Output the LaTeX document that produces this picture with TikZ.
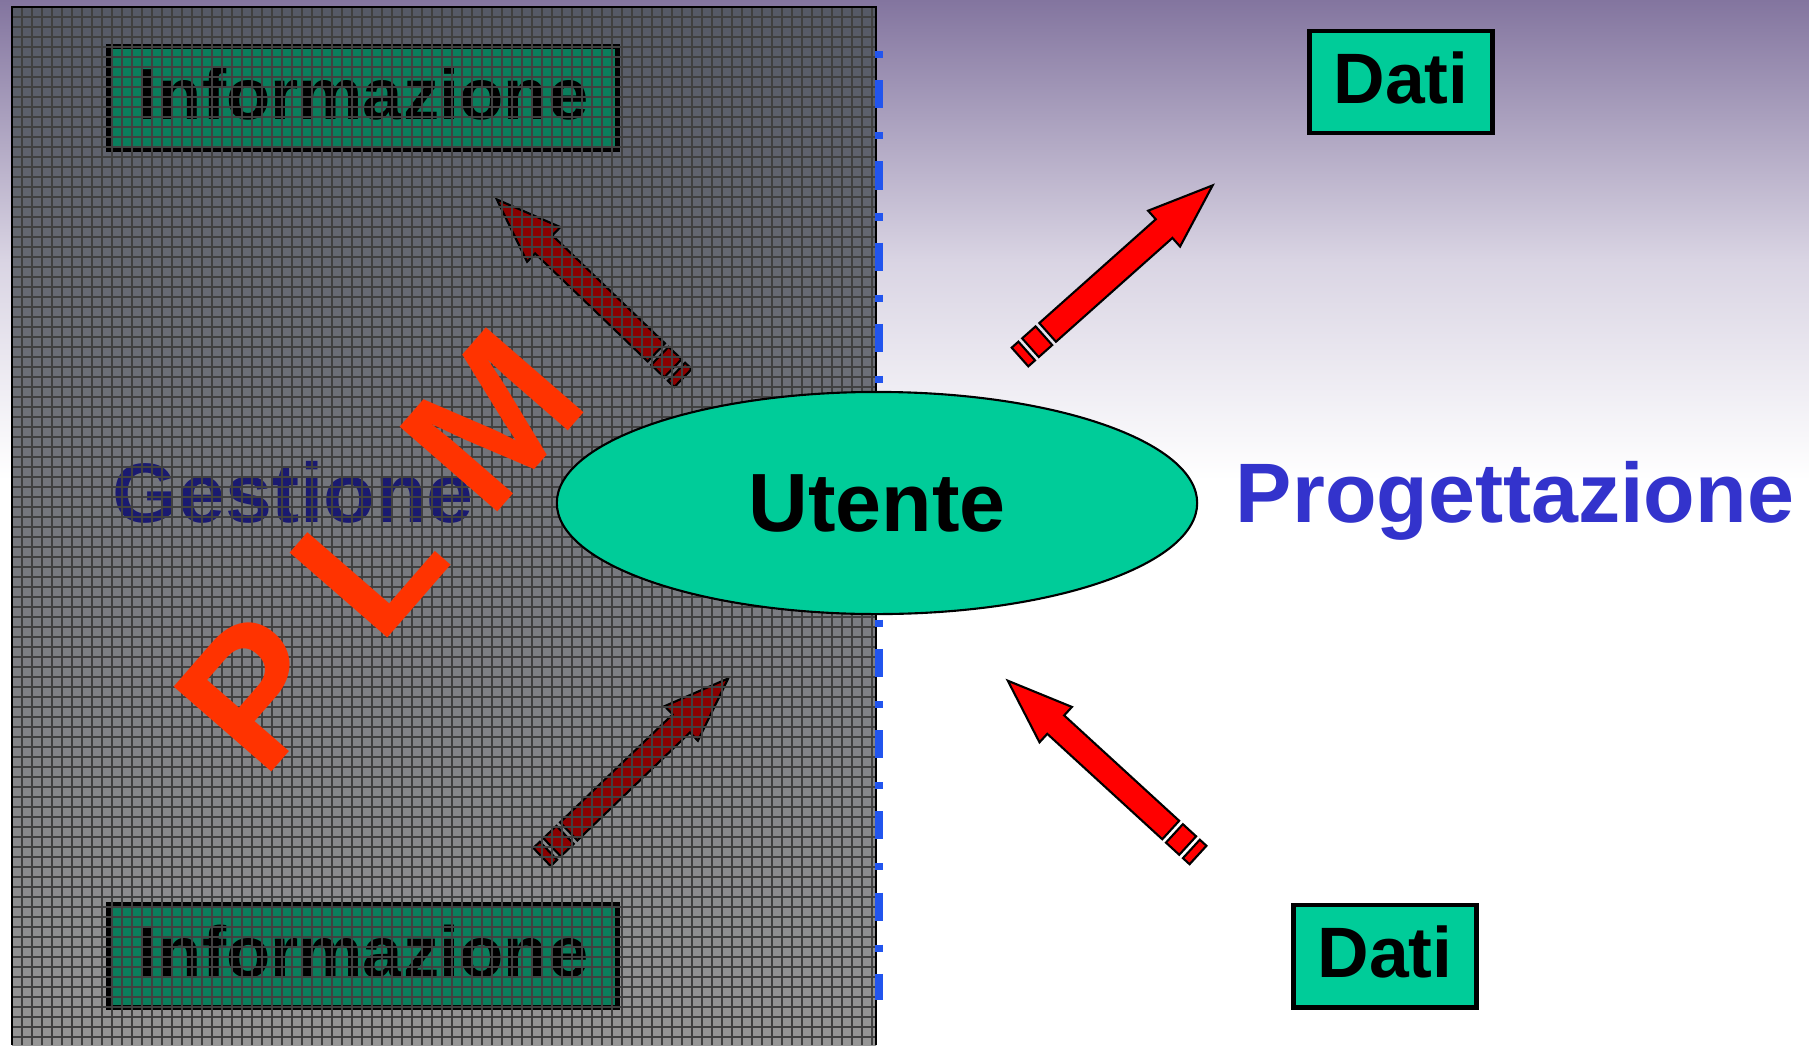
\documentclass[tikz,border=0pt]{standalone}
\usepackage{fontspec}
\setmainfont{Liberation Sans}
\usetikzlibrary{shapes.geometric}

\definecolor{plmteal}{HTML}{00CC99}
\definecolor{plmgreen}{HTML}{0A7E5C}
\definecolor{plmnavy}{HTML}{1A1A70}
\definecolor{plmblue}{HTML}{3333CC}
\definecolor{plmorange}{HTML}{FF3300}
\definecolor{plmdark}{HTML}{8B0000}
\definecolor{plmred}{HTML}{FF0000}
\definecolor{skytop}{HTML}{83759F}
\definecolor{skymid}{HTML}{D9D4E3}
\definecolor{paneltop}{HTML}{565A66}
\definecolor{panelmid}{HTML}{909296}
\definecolor{panelbot}{HTML}{959595}
\definecolor{dashblue}{HTML}{2255EE}

% striped block arrow: tail, angle, colour
\newcommand{\stripearrow}[3]{%
  \begin{scope}[shift={#1}, rotate=#2]
    \filldraw [arrowline, fill=#3] (0,-12.5) -- (9,-12.5) -- (9,12.5) -- (0,12.5) -- cycle;
    \filldraw [arrowline, fill=#3] (14,-12.5) -- (32,-12.5) -- (32,12.5) -- (14,12.5) -- cycle;
    \filldraw [arrowline, fill=#3] (37,-12.5) -- (193,-12.5) -- (193,-24) -- (258,0)
      -- (193,24) -- (193,12.5) -- (37,12.5) -- cycle;
  \end{scope}}

\begin{document}
\begin{tikzpicture}[x=0.01cm, y=-0.01cm,
  arrowline/.style={draw=black, line width=0.6pt, line join=miter},
  gridline/.style={black!75, line width=0.3pt},
  infobox/.style={draw=black, line width=1.4pt, fill=plmgreen, inner sep=0pt,
    minimum width=5.08cm, minimum height=1.03cm, text height=0.545cm, text depth=0.124cm,
    font={\fontsize{20.6}{24}\selectfont\bfseries}},
  datibox/.style={draw=black, line width=1.4pt, fill=plmteal, inner sep=0pt,
    minimum width=1.83cm, minimum height=1.02cm, text height=0.537cm, text depth=0.107cm,
    font={\fontsize{20.3}{24}\selectfont\bfseries}},
  bigword/.style={inner sep=0pt, anchor=base, font={\fontsize{24}{28}\selectfont\bfseries}},
  utentebox/.style={ellipse, draw=black, line width=0.6pt, fill=plmteal, inner sep=0pt,
    minimum width=6.4cm, minimum height=2.22cm, font={\fontsize{23.5}{28}\selectfont\bfseries}}]

\useasboundingbox (0,0) rectangle (1809,1045);

% sfondo
\fill [white] (0,0) rectangle (1809,1045);
\shade [top color=skytop, bottom color=skymid] (0,0) rectangle (1809,260);
\shade [top color=skymid, bottom color=white] (0,259) rectangle (1809,480);

% pannello a griglia
\shade [top color=paneltop, middle color=panelmid, bottom color=panelbot] (12,7) rectangle (876,1045);

\node [infobox] (infotop) at (363,98)  {Informazione};
\node [infobox] (infobot) at (363,956) {Informazione};
\node [bigword, text=plmnavy] (gestione) at (293,522) {Gestione};

\coordinate (tailNW) at (683,378);
\coordinate (tailSW) at (542,857);
\stripearrow{(tailNW)}{136.2}{plmdark}
\stripearrow{(tailSW)}{43.8}{plmdark}

\foreach \x in {22,32,...,872}
  \draw [gridline] (\x,7) -- (\x,1045);
\foreach \y in {17,27,...,1043}
  \draw [gridline] (12,\y) -- (876,\y);
\draw [black, line width=0.8pt] (12,1045) -- (12,7) -- (876,7) -- (876,1045);

\draw [dashblue, line width=2pt, dash pattern=on 2pt off 6.3pt on 8pt off 6.8pt] (879,51) -- (879,1000);

% PLM
\node [inner sep=0pt, anchor=base, rotate=49, text=plmorange,
  font={\fontsize{53.5}{60}\selectfont\bfseries}] (plm) at (428,592) {P L M};

% utente
\node [utentebox] (utente) at (877,503) {Utente};

\coordinate (tailNE) at (1020,357);
\coordinate (tailSE) at (1198,855);
\stripearrow{(tailNE)}{41.7}{plmred}
\stripearrow{(tailSE)}{137.5}{plmred}

\node [datibox] (datitop) at (1401,82)  {Dati};
\node [datibox] (datibot) at (1385,956) {Dati};
\node [bigword, text=plmblue] (progetto) at (1515,522) {Progettazione};

\end{tikzpicture}
\end{document}
